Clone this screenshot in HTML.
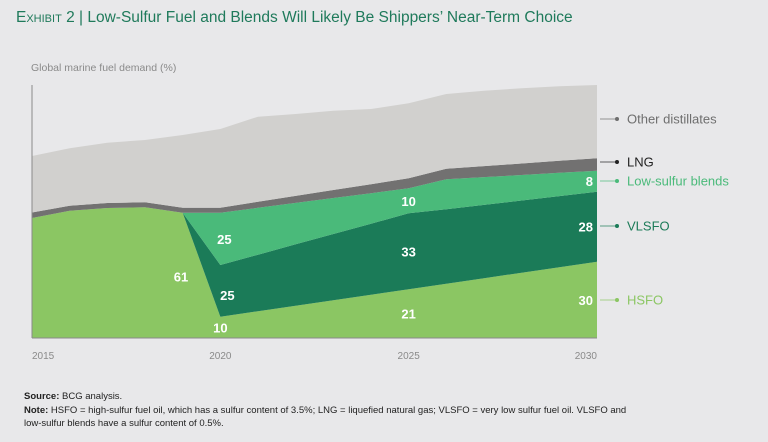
<!DOCTYPE html>
<html><head><meta charset="utf-8"><style>
body{margin:0;width:768px;height:442px;background:#e8e8ea;font-family:"Liberation Sans",sans-serif;overflow:hidden;position:relative}
.t{position:absolute;white-space:nowrap}
</style></head><body>
<div class="t" style="left:16px;top:9px;font-size:15.5px;color:#1f7a5b"><span style="font-variant:small-caps">Exhibit 2</span> | Low-Sulfur Fuel and Blends Will Likely Be Shippers’ Near-Term Choice</div>
<div class="t" style="left:31px;top:62px;font-size:10.5px;color:#8a8a8a">Global marine fuel demand (%)</div>
<svg id="chart" width="768" height="442" style="position:absolute;left:0;top:0"></svg>
<div class="t" style="left:24px;top:391px;font-size:9.5px;color:#222"><b>Source:</b> BCG analysis.</div>
<div class="t" style="left:24px;top:404px;font-size:9.5px;color:#222;line-height:13px"><b>Note:</b> HSFO = high-sulfur fuel oil, which has a sulfur content of 3.5%; LNG = liquefied natural gas; VLSFO = very low sulfur fuel oil. VLSFO and<br>low-sulfur blends have a sulfur content of 0.5%.</div>
<script>
const years=[2015,2016,2017,2018,2019,2020,2021,2022,2023,2024,2025,2026,2027,2028,2029,2030];
const hsfo=[120,127.3,130,130.7,125.3,21.3,26.8,32.3,37.8,43.3,48.8,54.3,59.8,65.3,70.8,76.3];
const vlsfo=[0,0,0,0,0,51.7,56.5,61.4,66.2,71,75.9,74.4,73.3,72.2,71.1,70];
const blends=[0,0,0,0,0,52.3,46.9,41.4,36,30.5,25,30,27.8,25.5,23.3,21];
const lng=[5.5,5,5,5,5,5,6,7,8,9,10,10.5,11,11.5,12,12.4];
const other=[56.5,57.4,60.3,62.3,72.7,78.7,85.1,81.9,79.3,75.2,75,74.8,75.4,75.2,74.6,73.3];
const xTicks=[2015,2020,2025,2030];
const valueLabels=[
 {s:'hsfo',year:2019,v:'61'},{s:'blends',year:2020,v:'25'},{s:'vlsfo',year:2020,v:'25'},{s:'hsfo',year:2020,v:'10'},
 {s:'blends',year:2025,v:'10'},{s:'vlsfo',year:2025,v:'33'},{s:'hsfo',year:2025,v:'21'},
 {s:'blends',year:2030,v:'8'},{s:'vlsfo',year:2030,v:'28'},{s:'hsfo',year:2030,v:'30'}];
const svg=document.getElementById('chart');const NS='http://www.w3.org/2000/svg';
const X0=32,X1=597,Y0=338;
const xs=y=>X0+(y-2015)/(2030-2015)*(X1-X0);
const ys=v=>Y0-v;
function mk(t,a){const e=document.createElementNS(NS,t);for(const k in a)e.setAttribute(k,a[k]);svg.appendChild(e);return e;}
const series=[['hsfo',hsfo,'#8bc663'],['vlsfo',vlsfo,'#1b7b58'],['blends',blends,'#4aba7a'],['lng',lng,'#727171'],['other',other,'#d1d0ce']];
const base=years.map(()=>0);const bounds={};
series.forEach(([n,d,c])=>{
 const lo=base.slice();const hi=base.map((b,i)=>b+d[i]);bounds[n]={lo,hi};
 let p=years.map((y,i)=>(i?'L':'M')+xs(y)+','+ys(hi[i])).join('');
 for(let i=years.length-1;i>=0;i--)p+='L'+xs(years[i])+','+ys(lo[i]);
 const e=mk('path',{d:p+'Z',fill:c});
 
 
 hi.forEach((v,i)=>base[i]=v);
});
let ax=mk('line',{x1:X0,y1:ys(base[base.length-1]),x2:X0,y2:Y0,stroke:'#8a8a8a','stroke-width':1});


let bl=mk('line',{x1:X0,y1:Y0,x2:X1,y2:Y0,stroke:'#8a8a8a','stroke-width':1});


xTicks.forEach((t,i)=>{const e=mk('text',{x:xs(t),y:359,'font-size':10,fill:'#8a8a8a','text-anchor':i==0?'start':i==xTicks.length-1?'end':'middle'});e.textContent=t;
 
 });
valueLabels.forEach(l=>{const i=years.indexOf(l.year);const b=bounds[l.s];
 let x=xs(l.year),anchor='middle';
 if(l.year===2030){x-=4;anchor='end';}
 let yc=(ys(b.lo[i])+ys(b.hi[i]))/2;
 if(l.year===2019){x=181;yc=ys(b.hi[i]*0.49);}
 if(l.year===2020){
  if(l.s==='blends'){x+=4;}
  if(l.s==='vlsfo'){x+=7;yc+=4;}
 }
 const e=mk('text',{x:x,y:yc+5,'font-size':13,'font-weight':'bold',fill:'#fff','text-anchor':anchor});e.textContent=l.v;
 
 });
const legend=[['Other distillates',119,'#6e6e6e','#6e6e6e'],['LNG',162,'#222','#222'],['Low-sulfur blends',181,'#4aba7a','#4aba7a'],['VLSFO',226,'#1b7b58','#1b7b58'],['HSFO',300,'#8bc663','#8bc663']];
legend.forEach(([t,y,c,dc])=>{
 const g=document.createElementNS(NS,'g');svg.appendChild(g);
 
 
 g.innerHTML=`<line x1="600" y1="${y}" x2="616" y2="${y}" stroke="${dc}" stroke-width="1" opacity="0.7"/><circle cx="617" cy="${y}" r="2" fill="${dc}"/><text x="627" y="${y+4.5}" font-size="13" fill="${c}">${t}</text>`;
});
</script>
</body></html>
